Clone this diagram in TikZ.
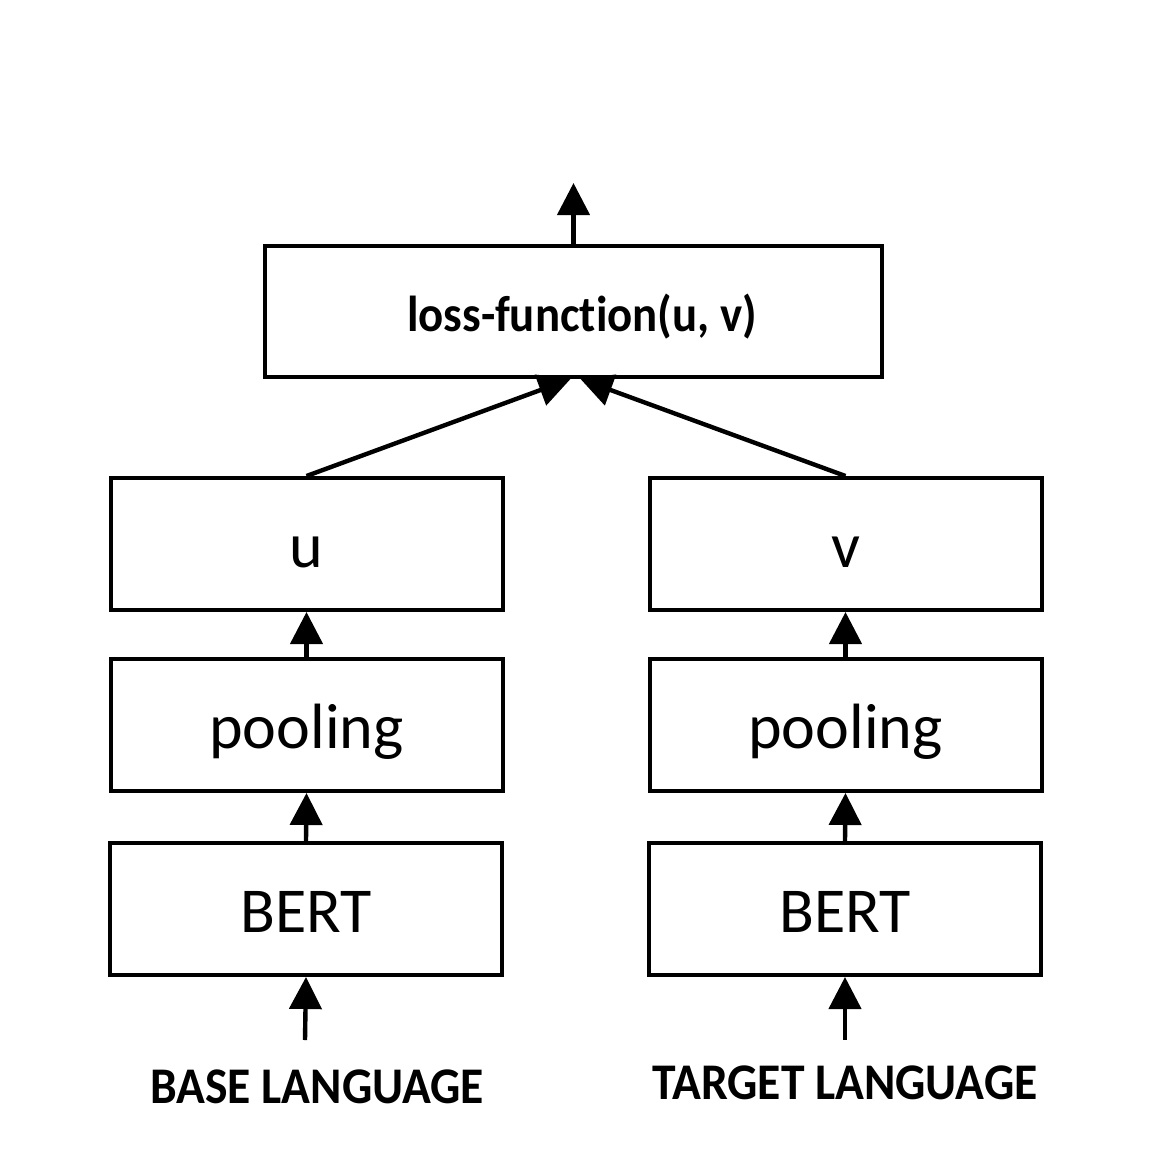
\documentclass[tikz,border=0pt]{standalone}
\usepackage{fontspec}
\setmainfont{Carlito}[Ligatures={NoCommon}]
\usetikzlibrary{arrows.meta,calc}
\begin{document}
\begin{tikzpicture}[x=0.5pt,y=-0.5pt,
  box/.style={draw,line width=2pt,rectangle,inner sep=0pt,minimum width=196pt,minimum height=66pt,text height=23pt,text depth=0pt,font=\fontsize{32}{36}\selectfont},
  conn/.style={line width=2.2pt,-{Triangle[length=16pt,width=16pt]}},
  lbl/.style={inner sep=0pt,font=\fontsize{23.8}{27}\selectfont\bfseries}]
\useasboundingbox (0,0) rectangle (1148,1157);
\node[box,minimum width=308.5pt,minimum height=65.5pt,text height=0pt] (loss) at (573.5,311.5) {};
\node[lbl,font=\fontsize{23.4}{27}\selectfont\bfseries] (losstext) at (582,317) {\scalebox{1}[1.08]{loss-function(u, v)}};
\node[box] (u) at (306.5,544) {u};
\node[box] (poolL) at (306.5,725) {pooling};
\node[box] (bertL) at (306,909) {BERT};
\node[box] (v) at (845.5,544) {v};
\node[box] (poolR) at (845.5,725) {pooling};
\node[box] (bertR) at (845,909) {BERT};
\node[lbl] (base) at (317,1087) {\scalebox{1}[1.08]{BASE LANGUAGE}};
\node[lbl] (target) at (845,1083) {\scalebox{1}[1.08]{TARGET LANGUAGE}};
\coordinate (out) at (573.5,183);
\coordinate (inL) at (305,1040);
\coordinate (inR) at (845,1040);
\draw[conn] (loss.north) -- (out);
\draw[conn] (u.north) -- ($(loss.south)+(-3,0)$);
\draw[conn] (v.north) -- ($(loss.south)+(7,0)$);
\draw[conn] (poolL.north) -- (u.south);
\draw[conn] (bertL.north) -- (poolL.south);
\draw[conn] (poolR.north) -- (v.south);
\draw[conn] (bertR.north) -- (poolR.south);
\draw[conn] (inL) -- (bertL.south);
\draw[conn] (inR) -- (bertR.south);
\end{tikzpicture}
\end{document}
